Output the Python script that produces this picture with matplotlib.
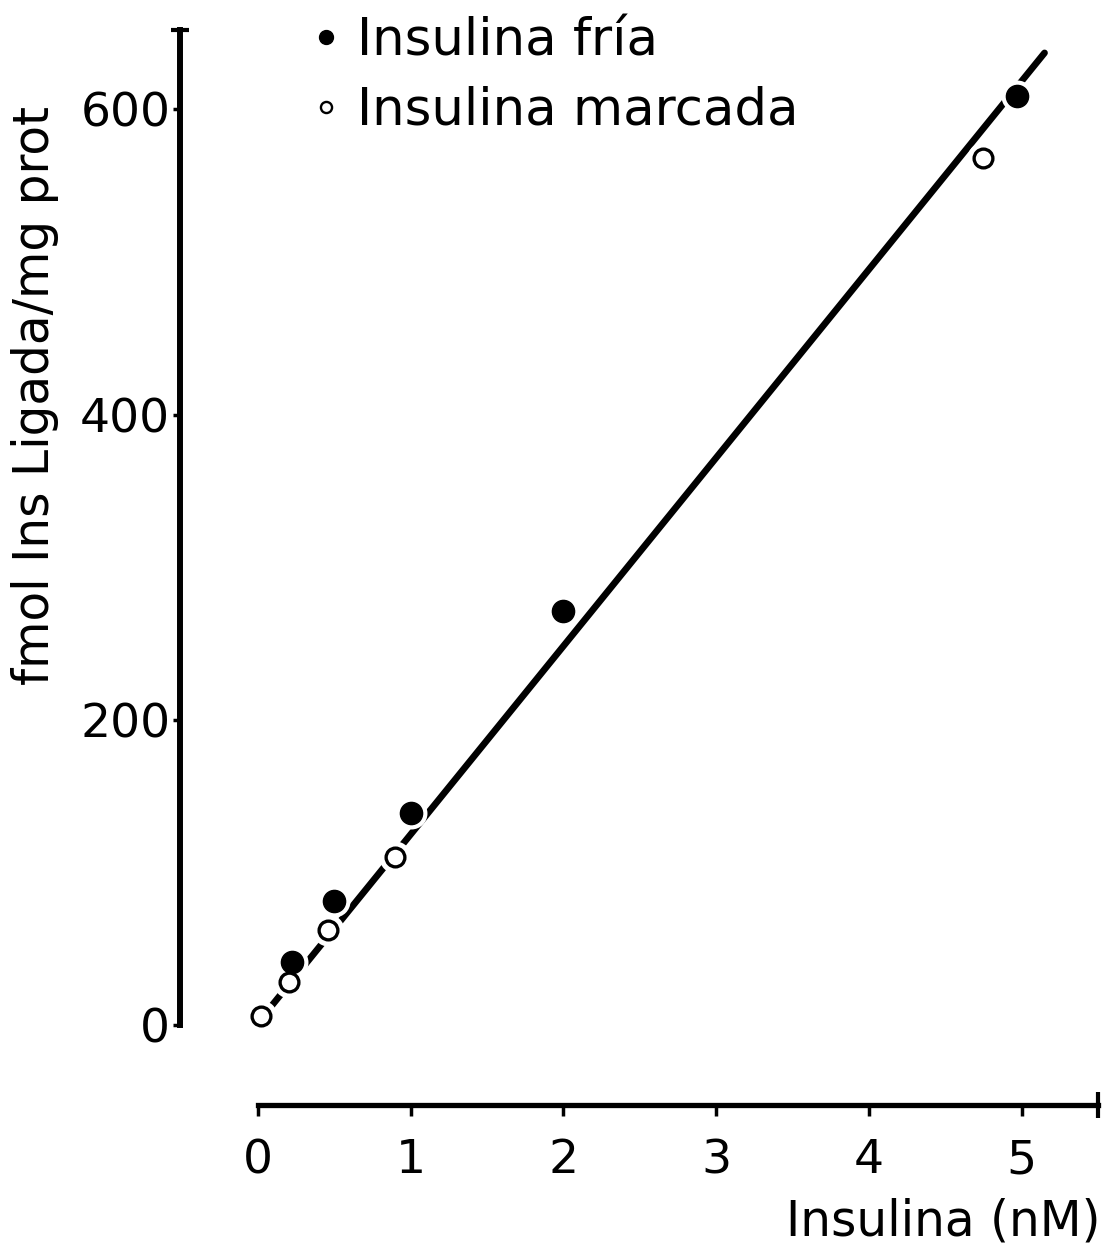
import matplotlib
matplotlib.use("Agg")
import matplotlib.pyplot as plt
from matplotlib.lines import Line2D

plt.rcParams['font.family'] = ['DejaVu Sans']

# insulina fria (filled)
fria_x = [0.22, 0.50, 1.00, 2.00, 4.97]
fria_y = [41, 81, 139, 271, 609]
# insulina marcada (open)
marc_x = [0.02, 0.20, 0.46, 0.90, 4.75]
marc_y = [6, 28, 62, 110, 568]
# fitted line
fit_x = [0.02, 5.15]
fit_y = [4, 637]

xticks = [0, 1, 2, 3, 4, 5]
yticks = [0, 200, 400, 600]
x_end = 5.5
y_end = 652

fig = plt.figure(figsize=(11.07, 12.54), dpi=100)
ax = fig.add_axes([180 / 1107, 1 - 1105 / 1254, 918 / 1107, 1075 / 1254])
ax.set_xlim(-0.511, x_end)
ax.set_ylim(-52.5, y_end)

ax.plot(fit_x, fit_y, color='black', lw=4.8, solid_capstyle='round', zorder=2)
# white halo so the line breaks around the points
ax.plot(fria_x + marc_x, fria_y + marc_y, 'o', ms=23, color='white', mec='none', zorder=3)
ax.plot(fria_x, fria_y, 'o', ms=16, color='black', mec='black', zorder=4)
ax.plot(marc_x, marc_y, 'o', ms=13.5, mfc='white', mec='black', mew=2.4, zorder=4)

for s in ['top', 'right']:
    ax.spines[s].set_visible(False)
ax.spines['left'].set_bounds(0, y_end)
ax.spines['bottom'].set_bounds(0, x_end)
ax.spines['left'].set_linewidth(4.3)
ax.spines['bottom'].set_linewidth(3.8)

ax.set_xticks(xticks)
ax.set_yticks(yticks)
ax.set_xticks([0, x_end], minor=True)
ax.set_yticks([0, y_end], minor=True)
ax.tick_params(axis='y', which='major', direction='out', length=5, width=2.5, pad=2, labelsize=34)
ax.tick_params(axis='x', which='major', direction='out', length=8, width=2.5, pad=16, labelsize=34)
ax.tick_params(axis='y', which='minor', direction='inout', length=13, width=3)
ax.tick_params(axis='x', which='minor', direction='inout', length=19, width=3)

fig.text(35 / 1107, 1 - 395 / 1254, 'fmol Ins Ligada/mg prot', rotation=90,
         ha='center', va='center', fontsize=35)
fig.text(1100 / 1107, 1 - 1222 / 1254, 'Insulina (nM)', ha='right', va='center', fontsize=35)

handles = [Line2D([], [], ls='none', marker='o', ms=10, color='black'),
           Line2D([], [], ls='none', marker='o', ms=8, mfc='white', mec='black', mew=1.7)]
ax.legend(handles, ['Insulina fría', 'Insulina marcada'], loc='upper left',
          bbox_to_anchor=(313 / 1107, 1 - 16 / 1254), bbox_transform=fig.transFigure,
          frameon=False, fontsize=37, handlelength=0.5, handletextpad=0.35,
          labelspacing=0.38, borderpad=0, borderaxespad=0)

fig.savefig('out.png', dpi=100)
